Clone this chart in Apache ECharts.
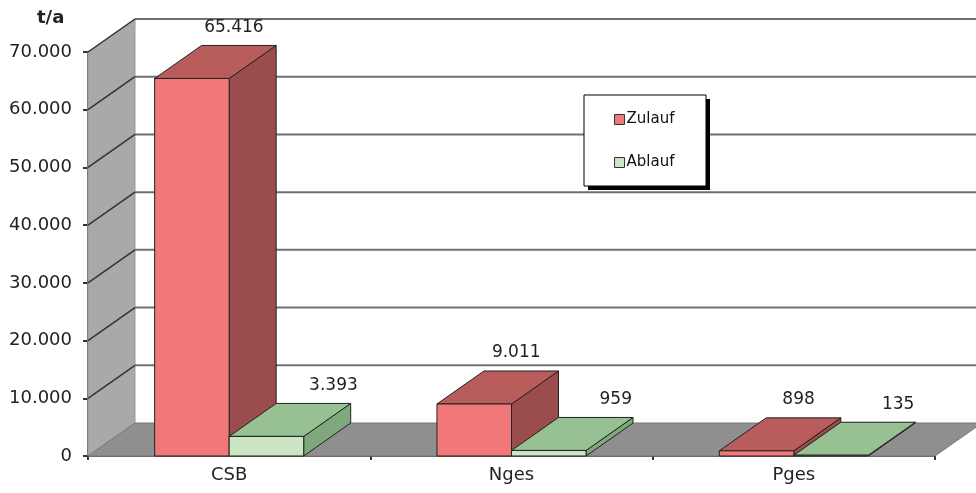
<!DOCTYPE html>
<html>
<head>
<meta charset="utf-8">
<script src="https://cdn.jsdelivr.net/npm/echarts@6/dist/echarts.min.js"></script>
<style>
  html, body { margin: 0; padding: 0; background: #fff; }
  #chart { width: 976px; height: 493px; }
</style>
</head>
<body>
<div id="chart"></div>
<script>
// data
const categories = ['CSB', 'Nges', 'Pges'];
const zulauf = [65416, 9011, 898];
const ablauf = [3393, 959, 135];
const yTicks = [0, 10000, 20000, 30000, 40000, 50000, 60000, 70000];

// 3d look
const DX = 47, DY = -33;
const BAR_RATIO = 0.264;
const FONT = 'DejaVu Sans';

function fmt(v) {
    return String(v).replace(/\B(?=(\d{3})+(?!\d))/g, '.');
}

// walls, floor and gridlines, one item per tick
function renderWalls(params, api) {
    const cs = params.coordSys;
    const v = api.value(0);
    const y = api.coord([0, v])[1];
    const x0 = cs.x, x1 = cs.x + cs.width;
    const yTop = cs.y, yBot = cs.y + cs.height;
    const children = [];
    if (v === 0) {
        // back wall
        children.push({
            type: 'polygon',
            shape: { points: [[x0 + DX, yTop + DY], [x1 + DX, yTop + DY], [x1 + DX, yBot + DY], [x0 + DX, yBot + DY]] },
            style: { fill: '#fff' }
        });
        // side wall
        children.push({
            type: 'polygon',
            shape: { points: [[x0, yBot], [x0, yTop], [x0 + DX, yTop + DY], [x0 + DX, yBot + DY]] },
            style: { fill: '#a9a9a9', stroke: '#999', lineWidth: 1 }
        });
        // floor
        children.push({
            type: 'polygon',
            shape: { points: [[x0, yBot], [x0 + DX, yBot + DY], [x1 + DX, yBot + DY], [x1, yBot]] },
            style: { fill: '#8f8f8f', stroke: '#777', lineWidth: 1 }
        });
    } else {
        children.push({
            type: 'line',
            shape: { x1: x0 + DX, y1: y + DY, x2: x1 + DX, y2: y + DY },
            style: { stroke: '#707070', lineWidth: 2 }
        });
        children.push({
            type: 'line',
            shape: { x1: x0, y1: y, x2: x0 + DX, y2: y + DY },
            style: { stroke: '#333', lineWidth: 1.5 }
        });
    }
    return { type: 'group', children: children };
}

function makeBarRenderer(side, colors, labelShift) {
    return function (params, api) {
        const cat = api.value(0);
        const val = api.value(1);
        const top = api.coord([cat, val]);
        const base = api.coord([cat, 0]);
        const bw = api.size([1, 0])[0] * BAR_RATIO;
        const xa = side < 0 ? top[0] - bw : top[0];
        const xb = xa + bw;
        const yt = top[1], yb = base[1];
        const edge = '#222';
        return {
            type: 'group',
            children: [
                {
                    type: 'polygon',
                    shape: { points: [[xb, yt], [xb + DX, yt + DY], [xb + DX, yb + DY], [xb, yb]] },
                    style: { fill: colors.side, stroke: edge, lineWidth: 1 }
                },
                {
                    type: 'polygon',
                    shape: { points: [[xa, yt], [xa + DX, yt + DY], [xb + DX, yt + DY], [xb, yt]] },
                    style: { fill: colors.top, stroke: edge, lineWidth: 1 }
                },
                {
                    type: 'rect',
                    shape: { x: xa, y: yt, width: bw, height: yb - yt },
                    style: { fill: colors.front, stroke: edge, lineWidth: 1 }
                },
                {
                    type: 'text',
                    x: (xa + xb) / 2 + DX + labelShift,
                    y: yt + DY - 18,
                    style: {
                        text: fmt(val),
                        font: '17px "' + FONT + '"',
                        fill: '#222',
                        align: 'center',
                        verticalAlign: 'middle'
                    }
                }
            ]
        };
    };
}

const chart = echarts.init(document.getElementById('chart'));
const option = {
    animation: false,
    backgroundColor: '#fff',
    grid: { left: 88, right: 41, top: 52, bottom: 37, containLabel: false },
    graphic: [
        {
            type: 'text',
            left: 37,
            top: 9,
            style: { text: 't/a', font: 'bold 18px "' + FONT + '"', fill: '#222' }
        },
        // legend frame with its hard shadow
        {
            type: 'rect',
            z: 10,
            shape: { x: 588, y: 99, width: 122, height: 91 },
            style: { fill: '#000' }
        },
        {
            type: 'rect',
            z: 11,
            shape: { x: 584, y: 95, width: 122, height: 91 },
            style: { fill: '#fff', stroke: '#000', lineWidth: 1 }
        }
    ],
    legend: {
        data: ['Zulauf', 'Ablauf'],
        orient: 'vertical',
        left: 584,
        top: 95,
        z: 20,
        padding: [17, 30, 19, 30],
        itemGap: 28,
        itemWidth: 10,
        itemHeight: 10,
        icon: 'rect',
        itemStyle: { borderColor: '#333', borderWidth: 1 },
        textStyle: { color: '#111', fontSize: 15, fontFamily: FONT, padding: [0, 0, 0, -3] }
    },
    xAxis: {
        type: 'category',
        data: categories,
        axisLine: { lineStyle: { color: '#333', width: 1.5 } },
        axisTick: { show: true, length: 4, lineStyle: { color: '#333', width: 2 } },
        axisLabel: { color: '#222', fontSize: 18, fontFamily: FONT, margin: 10 },
        splitLine: { show: false }
    },
    yAxis: {
        type: 'value',
        min: 0,
        max: 70000,
        interval: 10000,
        axisLine: { show: true, lineStyle: { color: '#333', width: 1.5 } },
        axisTick: { show: true, length: 5, lineStyle: { color: '#333', width: 2 } },
        axisLabel: { color: '#222', fontSize: 18, fontFamily: FONT, margin: 16, formatter: fmt },
        splitLine: { show: false }
    },
    series: [
        {
            name: 'walls',
            type: 'custom',
            z: 1,
            silent: true,
            renderItem: renderWalls,
            data: yTicks.map(v => [v]),
            encode: { y: 0 }
        },
        {
            name: 'Zulauf',
            type: 'custom',
            z: 2,
            itemStyle: { color: '#f07878' },
            renderItem: makeBarRenderer(-1, { front: '#f07878', top: '#b85c5c', side: '#9b4c4c' }, -5),
            data: zulauf.map((v, i) => [i, v]),
            encode: { x: 0, y: 1 }
        },
        {
            name: 'Ablauf',
            type: 'custom',
            z: 3,
            itemStyle: { color: '#cce5c3' },
            renderItem: makeBarRenderer(1, { front: '#cce5c3', top: '#97c093', side: '#7fa87c' }, 20),
            data: ablauf.map((v, i) => [i, v]),
            encode: { x: 0, y: 1 }
        }
    ]
};
chart.setOption(option);
</script>
</body>
</html>
